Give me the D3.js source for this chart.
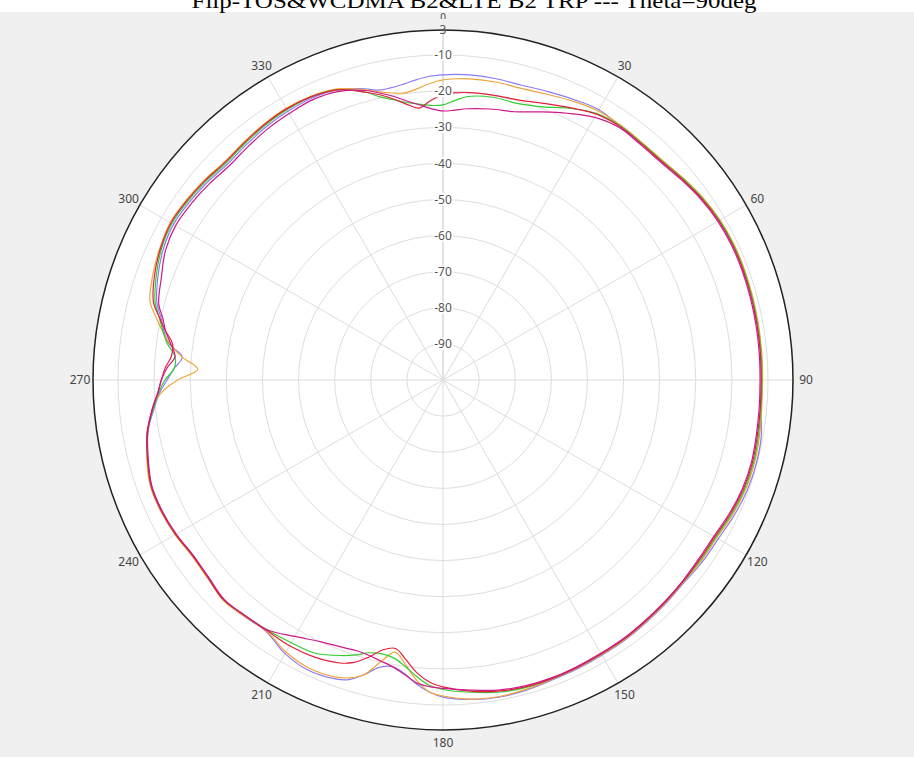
<!DOCTYPE html>
<html><head><meta charset="utf-8">
<script src="https://cdn.jsdelivr.net/npm/d3@7"></script>
<style>
html,body{margin:0;padding:0;background:#f0f0f0;}
svg{display:block;}
</style></head>
<body>
<svg id="chart" width="914" height="757"></svg>
<script>
// ---- data ----
const title = "Flip-TOS&WCDMA B2&LTE B2 TRP --- Theta=90deg";
const angleTicks = [0,30,60,90,120,150,180,210,240,270,300,330];
const ringTicks = [-90,-80,-70,-60,-50,-40,-30,-20,-10];
const maxValue = 3;
const minValue = -100;
const angles = [0,2.5,5,10,15,20,25,30,
  35,40,45,50,55,60,65,70,75,80,85,90,95,100,105,110,115,120,125,130,135,140,145,150,155,160,165,170,175,
  180,182.5,185,187.5,190,192.5,195,197.5,200,
  205,210,215,220,225,230,235,240,245,250,255,260,265,
  267.5,270,272.5,275,277.5,280,282.5,285,
  290,295,300,305,310,315,320,325,330,335,340,345,
  347.5,350,352.5,355,357.5];
const purple = [-15.5,-15.3,-15.2,-15.3,-15.5,-15.0,-14.3,-13.6,
  -14.3,-14.5,-14.3,-13.4,-12.4,-11.7,-11.4,-11.4,-11.5,-11.6,-11.7,-11.8,-11.6,-10.5,-10.2,-10.4,-11.1,-12.0,-12.3,-12.8,-12.6,-12.4,-12.1,-12.0,-11.8,-11.6,-11.1,-10.8,-11.2,
  -12.2,-13.5,-15.5,-18,-19.4,-18.5,-15.5,-13,-12,
  -11.4,-12.5,-14.8,-14.5,-14,-15,-15.3,-14.5,-14,-14,-15.3,-17,-20,
  -21.5,-23.6,-25.5,-27.5,-23.5,-21.5,-20,-18,
  -16,-14.5,-13.8,-14.2,-14.8,-15.5,-15.1,-14.5,-14.1,-13.9,-14.5,-16.5,
  -17.8,-17.8,-17.3,-16.5,-15.8];
const orange = [-16.9,-16.5,-16.3,-16.2,-16.4,-15.8,-14.8,-14.0,
  -14.0,-14.2,-14.0,-13.1,-12.1,-11.4,-11.1,-11.1,-11.2,-11.3,-11.4,-11.5,-11.4,-11.0,-10.7,-10.9,-11.6,-12.5,-12.7,-13.0,-12.8,-12.6,-12.3,-12.2,-12.0,-11.8,-11.3,-11.0,-11.3,
  -12.5,-13.5,-16.5,-20.5,-23.5,-20,-15.5,-13.5,-12.5,
  -12,-13,-15,-14.5,-13.8,-14.8,-15.1,-14.3,-13.8,-13.8,-15.1,-17,-19.5,
  -22,-26.5,-32,-27.5,-23.8,-21,-18.5,-16,
  -14.5,-13.5,-12.8,-13.2,-13.8,-14.5,-14.1,-13.5,-13.1,-13.3,-14.2,-16.8,
  -18.3,-19.3,-19.8,-19,-17.8];
const green = [-23.8,-22.5,-21.2,-20.5,-20.7,-19.5,-17,-14.8,
  -14.2,-14.4,-14.2,-13.3,-12.3,-11.6,-11.3,-11.3,-11.4,-11.5,-11.6,-11.7,-11.6,-11.3,-11.0,-11.2,-11.9,-12.8,-13.0,-13.2,-13.0,-12.8,-12.5,-12.4,-12.2,-12.0,-11.8,-12.2,-13.2,
  -14.3,-15.3,-17.5,-20,-21.8,-22.3,-21.8,-20.2,-18.8,
  -16.5,-16,-15.4,-14.8,-14,-15,-15.3,-14.5,-14,-14,-15.3,-16.8,-19.8,
  -21.2,-23,-25.5,-25.5,-23,-21.2,-19.5,-17.5,
  -15.5,-14,-13.3,-13.7,-14.3,-15,-14.6,-14,-13.6,-13.5,-14.5,-17.5,
  -19.7,-21.2,-22.5,-23.3,-23.9];
const red = [-21,-20.4,-20.1,-19.9,-19.7,-18.5,-16.8,-15,
  -14.4,-14.6,-14.4,-13.5,-12.5,-11.8,-11.5,-11.5,-11.6,-11.7,-11.8,-11.9,-11.8,-11.6,-11.3,-11.5,-12.2,-13.1,-13.3,-13.2,-13.0,-12.8,-12.5,-12.4,-12.2,-12.0,-12.0,-12.5,-13.5,
  -15,-16.2,-18.5,-21.8,-24.5,-23.5,-20.5,-18,-16.6,
  -15.4,-15,-15.2,-14.8,-14,-15,-15.3,-14.5,-14,-14,-15.3,-16.8,-19.5,
  -21,-22,-23,-24.5,-24.5,-22,-19.5,-17,
  -15,-13.7,-13,-13.4,-14,-14.7,-14.3,-13.7,-13.3,-13.5,-14.5,-17.5,
  -19.1,-21,-23,-24.4,-22.5];
const magenta = [-25.5,-25.2,-24.6,-23.8,-23.1,-21,-18.5,-16,
  -14.7,-14.9,-14.7,-13.8,-12.8,-12.1,-11.8,-11.8,-11.9,-12.0,-12.1,-12.2,-12.1,-11.9,-11.6,-11.8,-12.5,-13.4,-13.6,-13.4,-13.2,-13.0,-12.7,-12.6,-12.4,-12.2,-12.3,-12.8,-13.8,
  -14.6,-15,-15.8,-17.8,-19.4,-20.3,-21,-21.3,-21,
  -20,-18,-15.5,-14.8,-14.2,-15.2,-15.5,-14.7,-14.2,-14.2,-15.5,-17,-19.5,
  -21,-22,-23.5,-25.5,-24,-22,-20.5,-18.5,
  -17,-15.2,-14.5,-14.9,-15.5,-16.2,-15.8,-15.2,-14.8,-14.4,-15,-17,
  -18.6,-20.2,-22,-23.5,-24.8];
const seriesValues = [purple, orange, green, red, magenta];
const seriesColors = ["#8a7cf6","#f0a53a","#33cc33","#e3213a","#cc1a8a"];

// ---- drawing ----
const svg = d3.select("#chart");
const W = 914, H = 757;
const cx = 443, cy = 380, R = 350;
const rScale = d3.scaleLinear().domain([minValue, -10, maxValue]).range([0, 325, R]);
const aScale = d3.scaleLinear().domain([0, 360]).range([0, 2 * Math.PI]);

svg.append("rect").attr("x",0).attr("y",0).attr("width",W).attr("height",H).attr("fill","#f0f0f0");
svg.append("rect").attr("x",0).attr("y",0).attr("width",W).attr("height",12).attr("fill","#ffffff");

svg.append("text").attr("x",474).attr("y",7.5)
  .attr("text-anchor","middle")
  .attr("font-family","'Liberation Serif', 'Times New Roman', serif")
  .attr("font-size",21).attr("fill","#000")
  .attr("textLength",565).attr("lengthAdjust","spacingAndGlyphs")
  .text(title);

const g = svg.append("g").attr("transform",`translate(${cx},${cy})`);

g.append("circle").attr("r",R).attr("fill","#ffffff");

// rings
g.selectAll("circle.ring").data(ringTicks).join("circle")
  .attr("class","ring").attr("r",d=>rScale(d))
  .attr("fill","none").attr("stroke","#dedede").attr("stroke-width",1);

// spokes
g.selectAll("line.spoke").data(angleTicks).join("line")
  .attr("class","spoke")
  .attr("x1",0).attr("y1",0)
  .attr("x2",d=>R*Math.sin(aScale(d)))
  .attr("y2",d=>-R*Math.cos(aScale(d)))
  .attr("stroke",d=>d===0?"#c4c4c4":"#dcdcdc").attr("stroke-width",1);

// series
const line = d3.lineRadial()
  .angle(d=>aScale(d[0]))
  .radius(d=>rScale(d[1]))
  .curve(d3.curveCatmullRomClosed.alpha(0.5));

g.selectAll("path.series").data(seriesValues).join("path")
  .attr("class","series")
  .attr("d",vals=>line(angles.map((a,i)=>[a,vals[i]])))
  .attr("fill","none")
  .attr("stroke",(d,i)=>seriesColors[i])
  .attr("stroke-width",1.2);

// outer circle
g.append("circle").attr("r",R).attr("fill","none").attr("stroke","#222").attr("stroke-width",1.5);

// radial labels
const labelData = [maxValue].concat(ringTicks.slice().reverse());
const rl = g.selectAll("g.rlab").data(labelData).join("g")
  .attr("class","rlab")
  .attr("transform",d=>`translate(0,${-rScale(d)})`);
rl.append("rect").attr("x",d=>d===maxValue?-4:-10).attr("y",-6)
  .attr("width",d=>d===maxValue?8:20).attr("height",12).attr("fill",d=>d===maxValue?"none":"#ffffff");
rl.append("text").attr("text-anchor","middle").attr("dy","0.35em")
  .attr("font-family","'Noto Sans', 'Open Sans', sans-serif").attr("font-size",12)
  .attr("fill","#555").text(d=>String(d));

// angle labels (0 is drawn separately, partly hidden as in the reference)
g.selectAll("text.alab").data(angleTicks.filter(d=>d!==0)).join("text")
  .attr("class","alab")
  .attr("x",d=>363*Math.sin(aScale(d)))
  .attr("y",d=>-363*Math.cos(aScale(d)))
  .attr("text-anchor","middle").attr("dy","0.35em")
  .attr("font-family","'Noto Sans', 'Open Sans', sans-serif").attr("font-size",12)
  .attr("fill","#444").text(d=>String(d));

svg.append("clipPath").attr("id","zeroClip")
  .append("rect").attr("x",cx-20).attr("y",0).attr("width",40).attr("height",19);
svg.append("text").attr("x",cx).attr("y",17).attr("dy","0.35em")
  .attr("text-anchor","middle")
  .attr("font-family","'Noto Sans', 'Open Sans', sans-serif").attr("font-size",10)
  .attr("fill","#444").attr("clip-path","url(#zeroClip)").text(String(angleTicks[0]));
</script>
</body></html>
